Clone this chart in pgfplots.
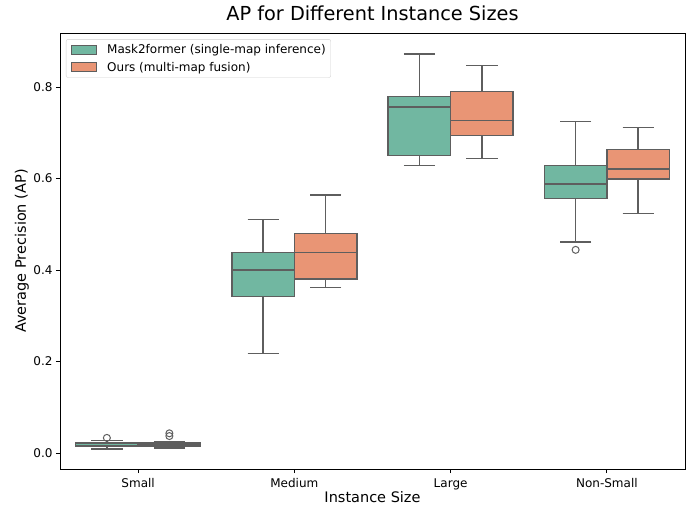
\documentclass[border=0pt]{standalone}
\usepackage{pgfplots}
\pgfplotsset{compat=1.18}
\usepgfplotslibrary{statistics}
\usepackage{fontspec}
\setmainfont{DejaVu Sans}
\definecolor{boxgreen}{HTML}{71B7A1}
\definecolor{boxorange}{HTML}{E99575}
\definecolor{boxline}{HTML}{5E5E5E}
\pgfplotsset{
  sbox/.style={draw=boxline, fill=#1, line width=1.3pt, solid,
    mark=o, mark size=3.5pt, mark options={draw=boxline, fill=none, line width=1pt},
    boxplot/draw direction=y,
    boxplot/box extend=0.4, boxplot/whisker extend=0.2, forget plot},
}
\begin{document}
\begin{tikzpicture}
\useasboundingbox (-60pt,-54pt) rectangle (638pt,469pt);
\begin{axis}[
  at={(0pt,0pt)}, anchor=south west,
  width=625pt, height=436pt, scale only axis,
  xmin=-0.5, xmax=3.5, ymin=-0.035, ymax=0.918,
  xtick={0,1,2,3}, xticklabels={Small,Medium,Large,Non-Small},
  ytick={0,0.2,0.4,0.6,0.8},
  yticklabel style={/pgf/number format/.cd, fixed, fixed zerofill, precision=1, assume math mode=true},
  tick align=outside, major tick length=4pt, tick pos=left,
  tick style={black, line width=0.9pt},
  axis line style={line width=0.9pt},
  ticklabel style={font=\fontsize{12}{14}\selectfont},
  xticklabel style={yshift=-2pt},
  title={AP for Different Instance Sizes},
  title style={font=\fontsize{19.3}{23}\selectfont, at={(axis description cs:0.5,1)}, anchor=base, yshift=6pt},
  xlabel={Instance Size},
  ylabel={Average Precision (AP)},
  xlabel style={font=\fontsize{14.5}{17}\selectfont, at={(axis description cs:0.5,-0.0642)}, anchor=center},
  ylabel style={font=\fontsize{14.5}{17}\selectfont, at={(axis description cs:-0.0608,0.5)}, anchor=center},
  legend style={at={(axis description cs:0.0096,0.986)}, anchor=north west,
    draw=black!18, rounded corners=2pt, font=\fontsize{12}{14}\selectfont,
    row sep=3pt, inner ysep=3pt, inner xsep=3pt},
  legend cell align=left,
  legend image code/.code={\draw[#1, sharp corners] (2pt,-4.5pt) rectangle (27pt,4.5pt); \path (0pt,0pt) (35pt,0pt);},
]
% Small
\addplot[sbox=boxgreen, boxplot prepared={draw position=-0.2,
  lower whisker=0.009, lower quartile=0.014, median=0.017, upper quartile=0.022, upper whisker=0.027}]
  table[row sep=\\, y index=0] {y\\ 0.033\\};
\addplot[sbox=boxorange, boxplot prepared={draw position=0.2,
  lower whisker=0.011, lower quartile=0.015, median=0.019, upper quartile=0.022, upper whisker=0.025}]
  table[row sep=\\, y index=0] {y\\ 0.037\\ 0.043\\};
% Medium
\addplot[sbox=boxgreen, boxplot prepared={draw position=0.8,
  lower whisker=0.218, lower quartile=0.342, median=0.400, upper quartile=0.438, upper whisker=0.511}]
  coordinates {};
\addplot[sbox=boxorange, boxplot prepared={draw position=1.2,
  lower whisker=0.361, lower quartile=0.380, median=0.438, upper quartile=0.479, upper whisker=0.564}]
  coordinates {};
% Large
\addplot[sbox=boxgreen, boxplot prepared={draw position=1.8,
  lower whisker=0.628, lower quartile=0.651, median=0.756, upper quartile=0.779, upper whisker=0.872}]
  coordinates {};
\addplot[sbox=boxorange, boxplot prepared={draw position=2.2,
  lower whisker=0.643, lower quartile=0.694, median=0.727, upper quartile=0.790, upper whisker=0.847}]
  coordinates {};
% Non-Small
\addplot[sbox=boxgreen, boxplot prepared={draw position=2.8,
  lower whisker=0.461, lower quartile=0.557, median=0.588, upper quartile=0.628, upper whisker=0.724}]
  table[row sep=\\, y index=0] {y\\ 0.444\\};
\addplot[sbox=boxorange, boxplot prepared={draw position=3.2,
  lower whisker=0.524, lower quartile=0.599, median=0.621, upper quartile=0.663, upper whisker=0.711}]
  coordinates {};
\addlegendimage{fill=boxgreen, draw=boxline, line width=1pt}
\addlegendentry{Mask2former (single-map inference)}
\addlegendimage{fill=boxorange, draw=boxline, line width=1pt}
\addlegendentry{Ours (multi-map fusion)}
\end{axis}
\end{tikzpicture}
\end{document}
